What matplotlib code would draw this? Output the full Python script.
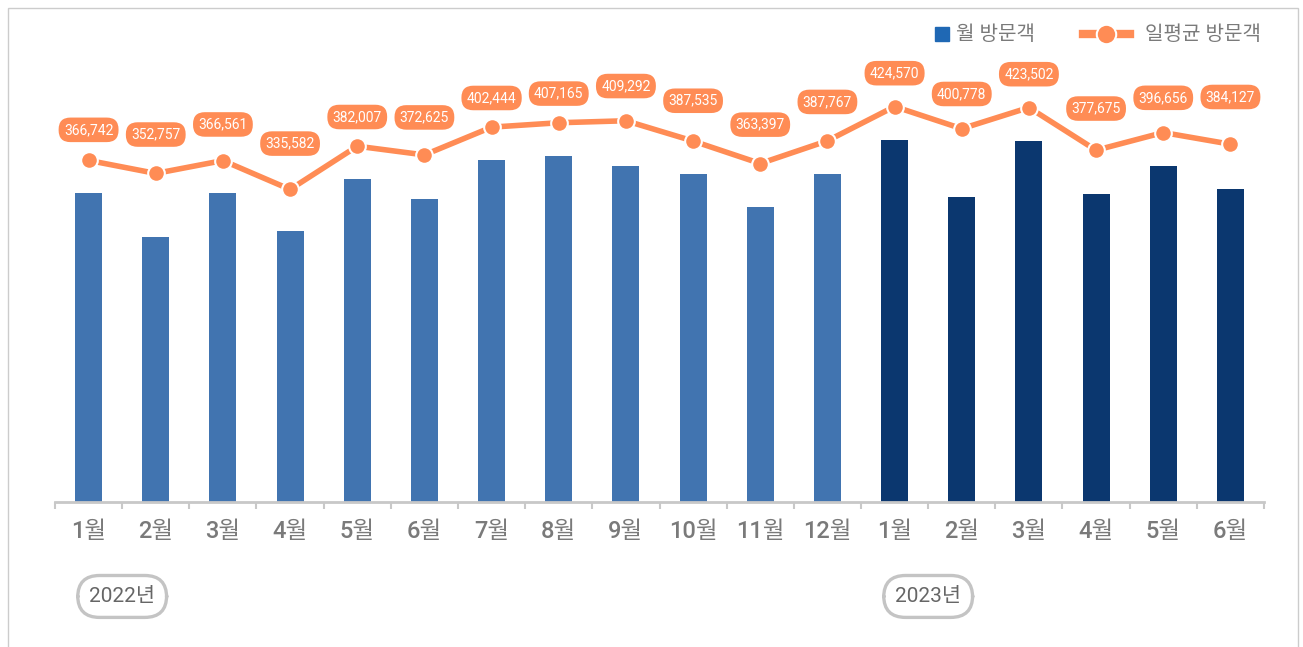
import matplotlib.pyplot as plt
from matplotlib.patches import Rectangle

plt.rcParams['font.family'] = ['Roboto', 'Noto Sans CJK KR', 'DejaVu Sans']

months = ["1월", "2월", "3월", "4월", "5월", "6월", "7월", "8월", "9월", "10월", "11월", "12월",
          "1월", "2월", "3월", "4월", "5월", "6월"]
years = ["2022년", "2023년"]
monthly = [11369002, 9877196, 11363391, 10067460, 11842217, 11178750, 12475764, 12622115,
           12278760, 12013585, 10901910, 12020777, 13161670, 11221784, 13128562, 11330250,
           12296336, 11523810]
daily = [366742, 352757, 366561, 335582, 382007, 372625, 402444, 407165, 409292, 387535,
         363397, 387767, 424570, 400778, 423502, 377675, 396656, 384127]

# label offsets above each point (points)
label_off = [22, 28, 26, 33, 21, 27, 21, 21, 25, 29, 28, 28, 24, 25, 24, 30, 25, 34]

c22 = "#4174b0"
c23 = "#0b376f"
orange = "#ff8c55"
gray = "#7a7a7a"

fig = plt.figure(figsize=(13.03, 6.47), dpi=100)
ax = fig.add_axes([55 / 1303, (647 - 502) / 647, 1209 / 1303, 462 / 647])

x = list(range(len(months)))
colors = [c22] * 12 + [c23] * 6
ax.bar(x, monthly, width=0.4, color=colors, zorder=2)
ax.set_xlim(-0.5, 17.5)
ax.set_ylim(895000, 16560000)
ax.set_yticks([])
for s in ["top", "right", "left"]:
    ax.spines[s].set_visible(False)
ax.spines["bottom"].set_color("#c8c8c8")
ax.spines["bottom"].set_linewidth(2)
ax.set_xticks([i - 0.5 for i in range(19)], minor=False)
ax.set_xticklabels([])
ax.tick_params(axis="x", which="major", length=5, width=1.5, color="#c8c8c8", direction="out")
ax.set_xticks(x, minor=True)
ax.set_xticklabels(months, minor=True, fontweight="medium")
ax.tick_params(axis="x", which="minor", length=0, pad=13, labelsize=17, labelcolor=gray)

ax2 = ax.twinx()
ax2.set_ylim(0, 496000)
ax2.set_yticks([])
for s in ax2.spines.values():
    s.set_visible(False)
ax2.plot(x, daily, color=orange, lw=4, marker="o", ms=12, mfc=orange, mec="white",
         mew=1.5, zorder=3, solid_capstyle="butt")
for i, v in enumerate(daily):
    ax2.annotate(f"{v:,}", (i, v), xytext=(0, label_off[i]), textcoords="offset points",
                 ha="center", va="center", fontsize=10, color="white",
                 bbox=dict(boxstyle="round,pad=0.38,rounding_size=0.85", fc=orange, ec="none"))

# year labels
for pos, txt in zip([0.5, 12.5], years):
    ax.annotate(txt, (pos, 0), xycoords=("data", "axes fraction"), xytext=(0, -68),
                textcoords="offset points", ha="center", va="center", fontsize=15,
                color="#666666", annotation_clip=False,
                bbox=dict(boxstyle="round,pad=0.55,rounding_size=1.05", fc="white",
                          ec="#c4c4c4", lw=2.4))

# legend
fig.patches.append(Rectangle((935 / 1303, 1 - 41 / 647), 14 / 1303, 14 / 647,
                             transform=fig.transFigure, color="#1f68b4"))
fig.text(956 / 1303, 1 - 34 / 647, "월 방문객", fontsize=14.5, color=gray, va="center")
fig.lines.append(plt.Line2D([1083 / 1303, 1130 / 1303], [1 - 34 / 647, 1 - 34 / 647],
                            transform=fig.transFigure, color=orange, lw=6,
                            marker=None))
fig.lines.append(plt.Line2D([1106 / 1303], [1 - 34 / 647], transform=fig.transFigure,
                            color=orange, marker="o", ms=14, mec="white", mew=1.5))
fig.text(1145 / 1303, 1 - 34 / 647, "일평균 방문객", fontsize=14.5, color=gray, va="center")

# frame
fig.patches.append(Rectangle((8 / 1303, -0.05), 1290 / 1303, 1.05 - 8 / 647,
                             transform=fig.transFigure, fill=False, ec="#cccccc", lw=1))

fig.savefig("out.png", dpi=100)
